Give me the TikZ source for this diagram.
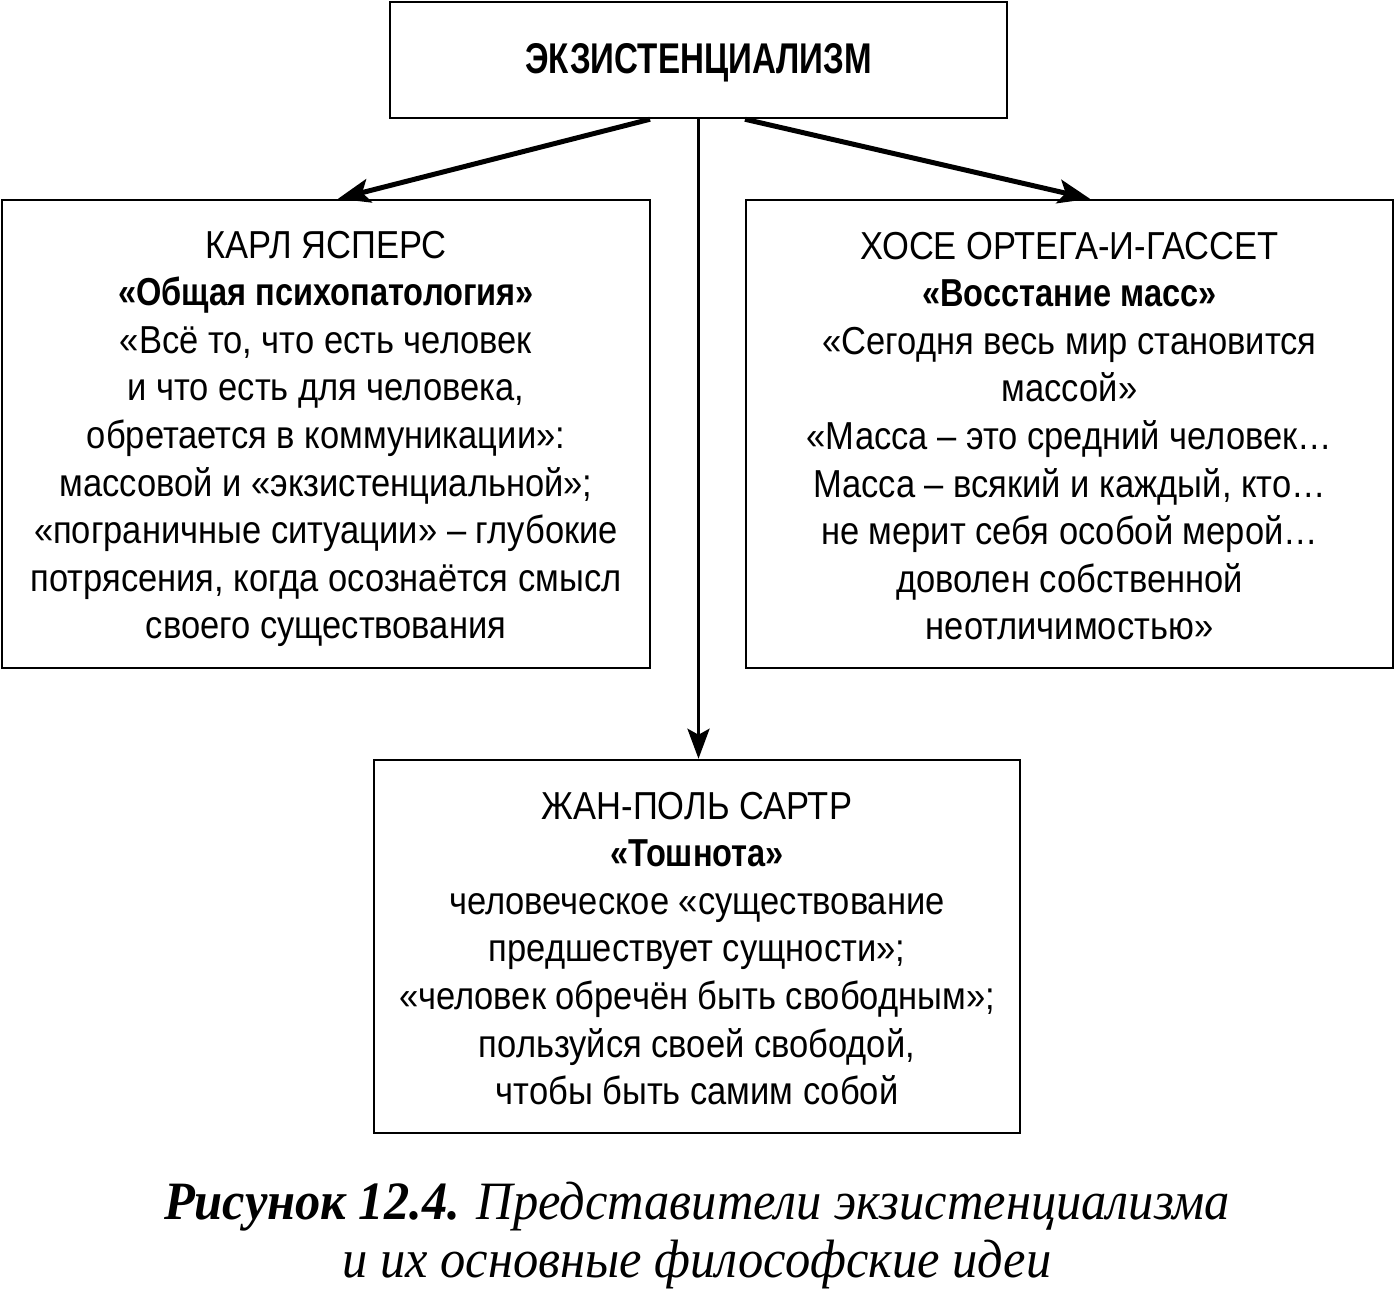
\documentclass[tikz,border=0pt]{standalone}
\usepackage{fontspec}
\setmainfont{Liberation Sans}[FakeStretch=0.885]
\newfontfamily\boldsans{Liberation Sans Bold}[FakeStretch=0.835]
\newfontfamily\titlefont{Liberation Sans Bold}[FakeStretch=0.77]
\newfontfamily\capfont{Liberation Serif}[FakeStretch=0.935]
\newcommand{\bt}[1]{{\boldsans #1}}
\usetikzlibrary{arrows.meta}
\begin{document}
\begin{tikzpicture}[x=1pt,y=-1pt,
  box/.style={draw, line width=2.5pt, inner sep=0pt},
  txt/.style={align=center, inner sep=0pt, font=\fontsize{39}{47.6}\selectfont},
  arr/.style={line width=5pt, -{Stealth[length=32pt,width=24pt,inset=7pt]}},
  varr/.style={line width=3.5pt, -{Stealth[length=30pt,width=22pt,inset=6pt]}},
  captxt/.style={align=center, inner sep=0pt, font=\capfont\itshape\fontsize{54}{58}\selectfont}]
\useasboundingbox (0,0) rectangle (1395,1291);
% boxes
\node[box, minimum width=617pt, minimum height=116pt] (T) at (698.5,60) {};
\node[box, minimum width=648pt, minimum height=468pt] (L) at (326,434) {};
\node[box, minimum width=647pt, minimum height=468pt] (R) at (1069.5,434) {};
\node[box, minimum width=646pt, minimum height=373pt] (B) at (697,946.5) {};
% texts
\node[txt, font=\titlefont\fontsize{43}{47.5}\selectfont] (tT) at ([yshift=-3pt]T.center) {ЭКЗИСТЕНЦИАЛИЗМ};
\node[txt] (tL) at ([yshift=-5pt]L.center) {КАРЛ ЯСПЕРС\\
\bt{«Общая психопатология»}\\
«Всё то, что есть человек\\
и что есть для человека,\\
обретается в коммуникации»:\\
массовой и «экзистенциальной»;\\
«пограничные ситуации» – глубокие\\
потрясения, когда осознаётся смысл\\
своего существования};
\node[txt] (tR) at ([yshift=-2pt]R.center) {ХОСЕ ОРТЕГА-И-ГАССЕТ\\
\bt{«Восстание масс»}\\
«Сегодня весь мир становится\\
массой»\\
«Масса – это средний человек…\\
Масса – всякий и каждый, кто…\\
не мерит себя особой мерой…\\
доволен собственной\\
неотличимостью»};
\node[txt] (tB) at ([yshift=-2pt]B.center) {ЖАН-ПОЛЬ САРТР\\
\bt{«Тошнота»}\\
человеческое «существование\\
предшествует сущности»;\\
«человек обречён быть свободным»;\\
пользуйся своей свободой,\\
чтобы быть самим собой};
% connectors
\draw[arr] ([xshift=-48.5pt]T.south) -- ([xshift=12pt]L.north);
\draw[arr] ([xshift=46.5pt]T.south) -- ([xshift=20.5pt]R.north);
\draw[varr] (T.south) -- (T.south |- B.north);
% caption
\node[captxt] (C) at (697,1235) {{\bfseries Рисунок 12.4.} Представители экзистенциализма\\
и их основные философские идеи};
\end{tikzpicture}
\end{document}
